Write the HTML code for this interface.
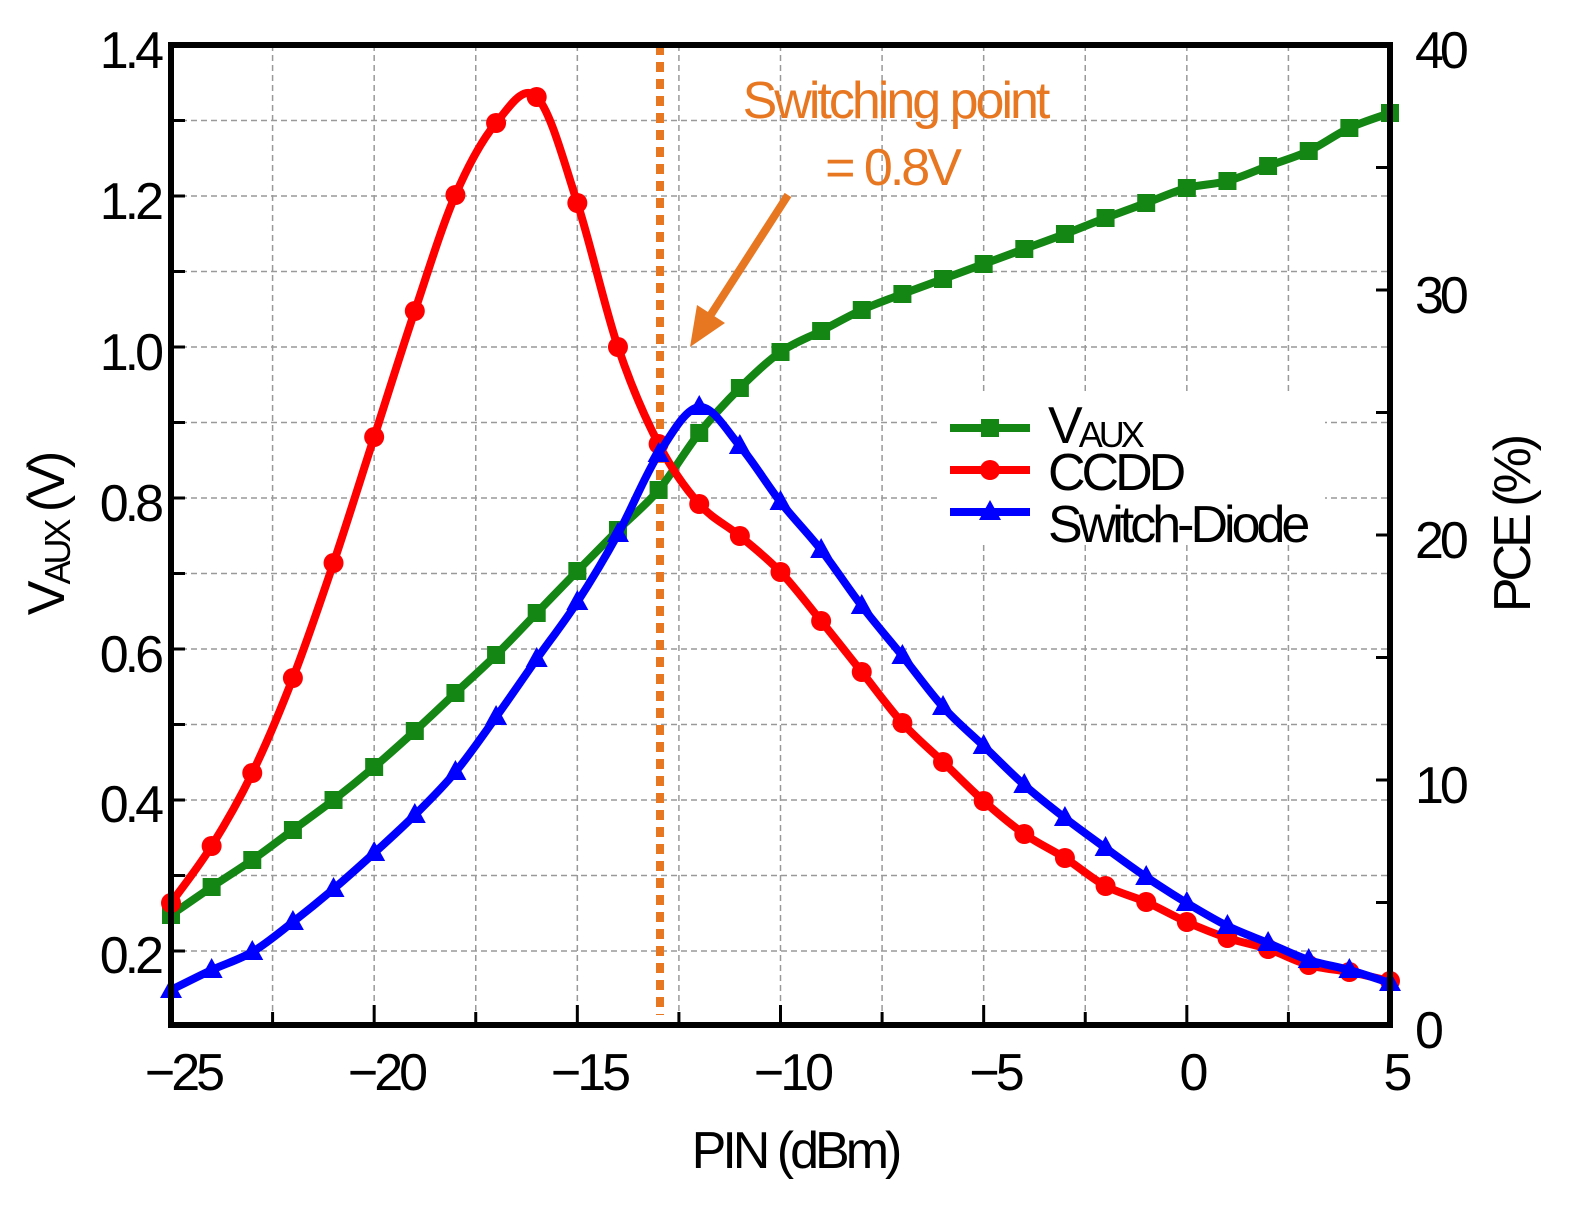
<!DOCTYPE html>
<html><head><meta charset="utf-8"><style>
html,body{margin:0;padding:0;background:#fff;}
svg{display:block;font-family:"Liberation Sans",sans-serif;}
.t{font-size:52px;letter-spacing:-4px;fill:#000;}
</style></head><body>
<svg id="s" width="1581" height="1209" viewBox="0 0 1581 1209" xmlns="http://www.w3.org/2000/svg">
<g id="grid" stroke="#999" stroke-width="1.5" stroke-dasharray="6,4"></g>
<line x1="660" y1="45" x2="660" y2="1015" stroke="#e87722" stroke-width="8" stroke-dasharray="10,7"/>
<g id="series"></g>
<rect x="171" y="45" width="1219" height="980" fill="none" stroke="#000" stroke-width="6"/>
<g id="ticks" stroke="#000" stroke-width="3"></g>
<g class="t" text-anchor="end">
<text x="160" y="68">1.4</text><text x="160" y="219">1.2</text><text x="160" y="370">1.0</text>
<text x="160" y="521">0.8</text><text x="160" y="672">0.6</text><text x="160" y="822">0.4</text><text x="160" y="973">0.2</text>
</g>
<g class="t" text-anchor="start">
<text x="1415" y="68">40</text><text x="1415" y="313">30</text><text x="1415" y="558">20</text>
<text x="1415" y="803">10</text><text x="1415" y="1048">0</text>
</g>
<g class="t" text-anchor="middle">
<text x="183" y="1090">−25</text><text x="386" y="1090">−20</text><text x="589" y="1090">−15</text>
<text x="792" y="1090">−10</text><text x="995" y="1090">−5</text><text x="1192" y="1090">0</text><text x="1396" y="1090">5</text>
<text x="795" y="1168">PIN (dBm)</text>
</g>
<text class="t" transform="translate(64,535) rotate(-90)" text-anchor="middle">V<tspan font-size="36" dy="6">AUX</tspan><tspan dy="-6"> (V)</tspan></text>
<text class="t" transform="translate(1530,525) rotate(-90)" text-anchor="middle">PCE (%)</text>
<text x="895" y="118" text-anchor="middle" font-size="52" fill="#e87722" letter-spacing="-3">Switching point</text>
<text x="892" y="185" text-anchor="middle" font-size="52" fill="#e87722" letter-spacing="-3">= 0.8V</text>
<line x1="788" y1="195" x2="710" y2="316" stroke="#e87722" stroke-width="8"/>
<polygon points="690,347 697,305 725,323" fill="#e87722"/>
<rect x="940" y="395" width="385" height="150" fill="#fff"/>
<g id="leg"></g>
<g class="t">
<text x="1048" y="443">V<tspan font-size="36" dy="4">AUX</tspan></text>
<text x="1048" y="490">CCDD</text>
<text x="1048" y="542">Switch-Diode</text>
</g>
</svg>
<script>
const NS="http://www.w3.org/2000/svg";
function el(p,t,a){const e=document.createElementNS(NS,t);for(const k in a)e.setAttribute(k,a[k]);p.appendChild(e);return e;}
const g=document.getElementById('grid'),tk=document.getElementById('ticks');
for(let i=1;i<12;i++){const x=171+i*1219/12;el(g,'line',{x1:x,y1:45,x2:x,y2:1025});}
for(let v=0.2;v<1.4;v+=0.1){const y=951-(v-0.2)/0.2*151;if(y>50)el(g,'line',{x1:171,y1:y,x2:1390,y2:y});}
for(let i=1;i<12;i++){const x=171+i*1219/12;el(tk,'line',{x1:x,y1:1025,x2:x,y2:(i%2?1012:1005)});}
for(let v=0.2;v<1.4;v+=0.1){const y=951-(v-0.2)/0.2*151;el(tk,'line',{x1:171,y1:y,x2:185,y2:y});}
for(let i=1;i<8;i++){const y=1025-i*122.5;el(tk,'line',{x1:1390,y1:y,x2:1376,y2:y});}
const X=i=>171+i*1219/30;
const green=[915,887,860,830,800,767,731,693,655,613,571,530,490,433,388,352,331,310,294,279,264,249,234,218,203,188,181,166,151,128,113];
const red=[903,846,773,678,563,437,311,195,123,97,203,347,444,504,536,572,621,672,723,762,801,834,858,886,902,922,938,949,965,972,981];
const blue=[990,970,952,922,889,853,815,772,717,659,602,534,454,407,446,502,550,606,656,707,746,785,818,848,877,903,926,943,960,970,983];
function path(ys){const p=ys.map((y,i)=>[X(i),y]);let d=`M${p[0][0]},${p[0][1]}`;
for(let i=0;i<p.length-1;i++){const p0=p[Math.max(i-1,0)],p1=p[i],p2=p[i+1],p3=p[Math.min(i+2,p.length-1)];
d+=` C${p1[0]+(p2[0]-p0[0])/6},${p1[1]+(p2[1]-p0[1])/6} ${p2[0]-(p3[0]-p1[0])/6},${p2[1]-(p3[1]-p1[1])/6} ${p2[0]},${p2[1]}`;}return d;}
const s=document.getElementById('series');
function mk(p,t,x,y,c){if(t=='s')el(p,'rect',{x:x-9,y:y-9,width:18,height:18,fill:c});
else if(t=='c')el(p,'circle',{cx:x,cy:y,r:10,fill:c});
else el(p,'polygon',{points:`${x},${y-12} ${x-11},${y+8} ${x+11},${y+8}`,fill:c});}
[[green,'#138613','s'],[red,'#ff0000','c'],[blue,'#0000ff','t']].forEach(([d,c,t])=>{
el(s,'path',{d:path(d),fill:'none',stroke:c,'stroke-width':8});d.forEach((y,i)=>mk(s,t,X(i),y,c));});
const L=document.getElementById('leg');
[[428,'#138613','s'],[470,'#ff0000','c'],[512,'#0000ff','t']].forEach(([y,c,t])=>{
el(L,'line',{x1:950,y1:y,x2:1030,y2:y,stroke:c,'stroke-width':8});mk(L,t,990,y,c);});
</script>
</body></html>
